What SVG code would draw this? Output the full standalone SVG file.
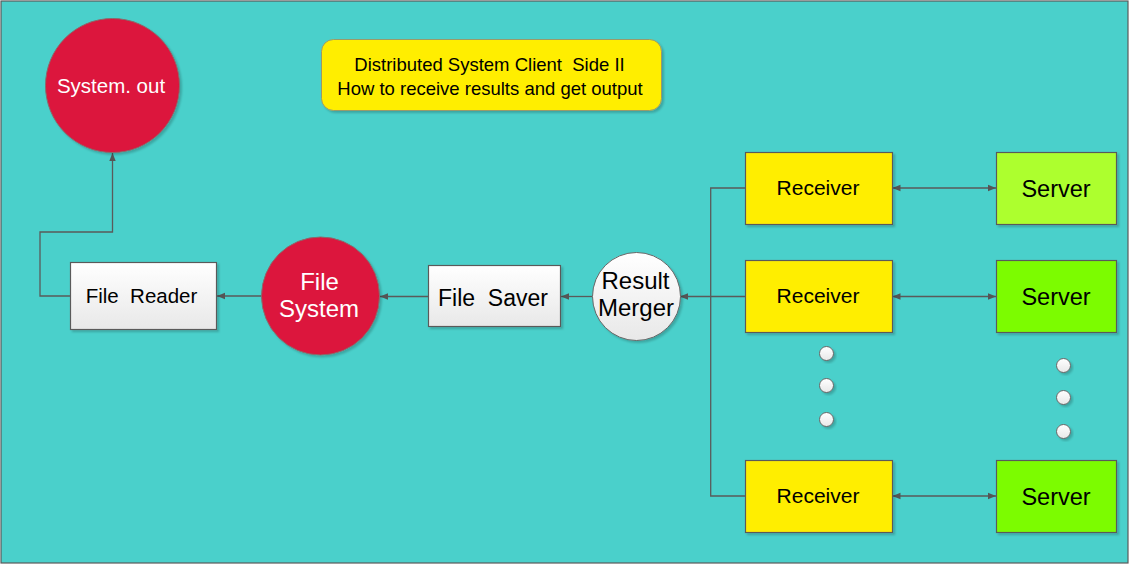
<svg xmlns="http://www.w3.org/2000/svg" width="1131" height="566" viewBox="0 0 1131 566">
<style>
.lbl{font-family:"Liberation Sans",Arial,sans-serif;text-anchor:middle;fill:#000;white-space:pre}
.wlbl{font-family:"Liberation Sans",Arial,sans-serif;text-anchor:middle;fill:#fff;white-space:pre}
.conn{fill:none;stroke:#5a5a5a;stroke-width:1.3}
.box{stroke:#5a5a5a;stroke-width:1.2}
.red{fill:#dc143c;stroke:#8a6a6a;stroke-width:1}
.dot{fill:url(#gw);stroke:#666;stroke-width:1}
</style>
<defs>
<linearGradient id="gw" x1="0" y1="0" x2="0" y2="1">
<stop offset="0" stop-color="#ffffff"/>
<stop offset="1" stop-color="#e8e8e8"/>
</linearGradient>
<filter id="sh" x="-10%" y="-10%" width="130%" height="130%">
<feDropShadow dx="2" dy="2" stdDeviation="1" flood-color="#000" flood-opacity="0.2"/>
</filter>
<marker id="ah" viewBox="0 0 10 10" refX="10" refY="5" markerWidth="8" markerHeight="8" markerUnits="userSpaceOnUse" orient="auto-start-reverse">
<path d="M0,1 L10,5 L0,9 z" fill="#555"/>
</marker>
</defs>
<rect x="0" y="0" width="1131" height="566" fill="#ffffff"/>
<rect x="1" y="1" width="1127" height="562" fill="#4ad0cb" stroke="#5a5a5a" stroke-width="1.2"/>

<g id="connectors">
<path class="conn" d="M70,296 H40 V232 H112.5 V153" marker-end="url(#ah)"/>
<path class="conn" d="M262,296 H217" marker-end="url(#ah)"/>
<path class="conn" d="M428,296.5 H380" marker-end="url(#ah)"/>
<path class="conn" d="M592,296.5 H561" marker-end="url(#ah)"/>
<path class="conn" d="M745,296.5 H680" marker-end="url(#ah)"/>
<path class="conn" d="M745,188 H710.7 V496 H745"/>
<path class="conn" d="M892.5,188 H996" marker-start="url(#ah)" marker-end="url(#ah)"/>
<path class="conn" d="M892.5,296.5 H996" marker-start="url(#ah)" marker-end="url(#ah)"/>
<path class="conn" d="M892.5,496 H996" marker-start="url(#ah)" marker-end="url(#ah)"/>
</g>

<g id="title">
<rect x="321.5" y="39.5" width="340" height="71" rx="12" fill="#ffee00" stroke="#9a9a6a" stroke-width="1" filter="url(#sh)"/>
<text class="lbl" x="489.5" y="70.7" font-size="18.5" xml:space="preserve">Distributed System Client  Side II</text>
<text class="lbl" x="490" y="95" font-size="18.5">How to receive results and get output</text>
</g>

<g id="system-out">
<circle class="red" cx="112.5" cy="85.5" r="67" filter="url(#sh)"/>
<text class="wlbl" x="111" y="92.7" font-size="20.5">System. out</text>
</g>

<g id="file-reader">
<rect class="box" x="70.5" y="262.5" width="146" height="67" fill="url(#gw)" filter="url(#sh)"/>
<text class="lbl" x="141.5" y="303.3" font-size="20.5" xml:space="preserve">File  Reader</text>
</g>

<g id="file-system">
<circle class="red" cx="320.5" cy="296" r="59" filter="url(#sh)"/>
<text class="wlbl" x="319.5" y="290" font-size="24">File</text>
<text class="wlbl" x="319" y="316.7" font-size="24">System</text>
</g>

<g id="file-saver">
<rect class="box" x="428.5" y="265.5" width="132" height="61" fill="url(#gw)" filter="url(#sh)"/>
<text class="lbl" x="493" y="306" font-size="23" xml:space="preserve">File  Saver</text>
</g>

<g id="result-merger">
<circle cx="636.5" cy="296.5" r="44" fill="url(#gw)" stroke="#666" stroke-width="1" filter="url(#sh)"/>
<text class="lbl" x="635.5" y="289.3" font-size="24">Result</text>
<text class="lbl" x="636" y="316" font-size="24">Merger</text>
</g>

<g id="receiver-1">
<rect class="box" x="745.5" y="152.5" width="147" height="72" fill="#ffee00" filter="url(#sh)"/>
<text class="lbl" x="818" y="195" font-size="21">Receiver</text>
</g>
<g id="receiver-2">
<rect class="box" x="745.5" y="260.5" width="147" height="72" fill="#ffee00" filter="url(#sh)"/>
<text class="lbl" x="818" y="303" font-size="21">Receiver</text>
</g>
<g id="receiver-3">
<rect class="box" x="745.5" y="460.5" width="147" height="72" fill="#ffee00" filter="url(#sh)"/>
<text class="lbl" x="818" y="503" font-size="21">Receiver</text>
</g>

<g id="server-1">
<rect class="box" x="996.5" y="152.5" width="120" height="72" fill="#adff2f" filter="url(#sh)"/>
<text class="lbl" x="1056" y="196.7" font-size="23.5">Server</text>
</g>
<g id="server-2">
<rect class="box" x="996.5" y="260.5" width="120" height="72" fill="#7cfc00" filter="url(#sh)"/>
<text class="lbl" x="1056" y="304.7" font-size="23.5">Server</text>
</g>
<g id="server-3">
<rect class="box" x="996.5" y="460.5" width="120" height="72" fill="#7cfc00" filter="url(#sh)"/>
<text class="lbl" x="1056" y="504.7" font-size="23.5">Server</text>
</g>

<g id="dots-receivers">
<circle class="dot" cx="826.5" cy="353.5" r="7" filter="url(#sh)"/>
<circle class="dot" cx="826.5" cy="385.5" r="7" filter="url(#sh)"/>
<circle class="dot" cx="826.5" cy="419.5" r="7" filter="url(#sh)"/>
</g>
<g id="dots-servers">
<circle class="dot" cx="1063.5" cy="365.5" r="7" filter="url(#sh)"/>
<circle class="dot" cx="1063.5" cy="397.5" r="7" filter="url(#sh)"/>
<circle class="dot" cx="1063.5" cy="431.5" r="7" filter="url(#sh)"/>
</g>
</svg>
